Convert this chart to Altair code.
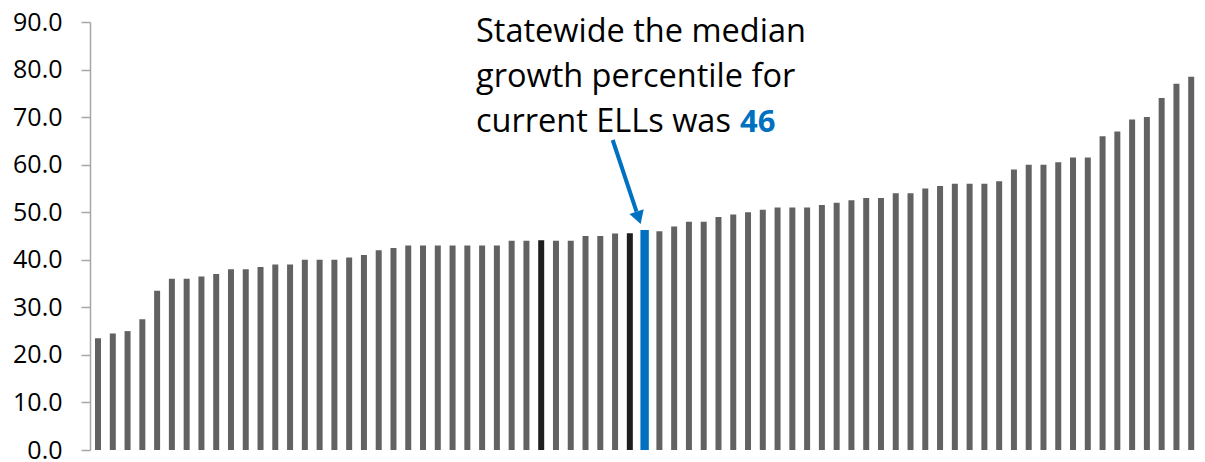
import altair as alt
import pandas as pd

# Median growth percentile of current ELLs, one bar per district (sorted)
values = [
    23.5, 24.5, 25.0, 27.5, 33.5, 36.0, 36.0, 36.5, 37.0, 38.0,
    38.0, 38.5, 39.0, 39.0, 40.0, 40.0, 40.0, 40.5, 41.0, 42.0,
    42.5, 43.0, 43.0, 43.0, 43.0, 43.0, 43.0, 43.0, 44.0, 44.0,
    44.1, 44.0, 44.0, 45.0, 45.0, 45.5, 45.6, 46.0, 46.0, 47.0,
    48.0, 48.0, 49.0, 49.5, 50.0, 50.5, 51.0, 51.0, 51.0, 51.5,
    52.0, 52.5, 53.0, 53.0, 54.0, 54.0, 55.0, 55.5, 56.0, 56.0,
    56.0, 56.5, 59.0, 60.0, 60.0, 60.5, 61.5, 61.5, 66.0, 67.0,
    69.5, 70.0, 74.0, 77.0, 78.5, 83.0,
]
highlight_idx = [30, 36]   # black bars
median_idx = 37            # statewide median (blue)
groups = ["District", "Highlighted", "Statewide"]
group_colors = ["#626262", "#1e1e1e", "#0070C0"]
y_ticks = [0, 10, 20, 30, 40, 50, 60, 70, 80, 90]

annot_lines = ["Statewide the median", "growth percentile for", "current ELLs was"]
annot_value = "46"

group = []
for i in range(len(values)):
    if i == median_idx:
        group.append(groups[2])
    elif i in highlight_idx:
        group.append(groups[1])
    else:
        group.append(groups[0])

df = pd.DataFrame({"idx": list(range(len(values))), "value": values, "group": group})

bars = alt.Chart(df).mark_bar(clip=True).encode(
    x=alt.X("idx:O", axis=None,
            scale=alt.Scale(range=[0, 1124], paddingInner=0.594, paddingOuter=0.34)),
    y=alt.Y("value:Q",
            scale=alt.Scale(domain=[0, 90], nice=False),
            axis=alt.Axis(values=y_ticks, format=".1f", title=None, grid=False,
                          domainColor="#a6a6a6", domainWidth=1.5,
                          tickColor="#a6a6a6", tickSize=9, tickWidth=1.5,
                          labelFont="Open Sans", labelFontSize=25, labelColor="#000000",
                          labelPadding=19)),
    color=alt.Color("group:N", scale=alt.Scale(domain=groups, range=group_colors), legend=None),
    stroke=alt.Color("group:N", scale=alt.Scale(domain=groups, range=group_colors), legend=None),
    strokeWidth=alt.condition(alt.datum.group == "Statewide", alt.value(2.4), alt.value(0)),
)

line_charts = []
for line, yb in zip(annot_lines, [20, 65, 110]):
    line_charts.append(
        alt.Chart(pd.DataFrame({"t": [line]})).mark_text(
            align="left", baseline="alphabetic", font="Open Sans", fontSize=32.5, color="#000000"
        ).encode(x=alt.value(386), y=alt.value(yb), text="t:N")
    )

value_text = alt.Chart(pd.DataFrame({"t": [annot_value]})).mark_text(
    align="left", baseline="alphabetic", font="Open Sans", fontSize=31,
    fontWeight="bold", color="#0070C0"
).encode(x=alt.value(650), y=alt.value(110), text="t:N")

arrow_line = alt.Chart(pd.DataFrame({"a": [0]})).mark_rule(
    color="#0070C0", strokeWidth=4
).encode(x=alt.value(522.7), y=alt.value(118), x2=alt.value(546.5), y2=alt.value(189.6))

arrow_head = alt.Chart(pd.DataFrame({"a": [0]})).mark_point(
    shape="triangle-up", filled=True, color="#0070C0", opacity=1, size=225, angle=161.6
).encode(x=alt.value(548.6), y=alt.value(195.8))

chart = alt.layer(bars, *line_charts, value_text, arrow_line, arrow_head).properties(
    width=1107, height=428,
    autosize=alt.AutoSizeParams(type="none"),
    padding={"left": 82, "top": 14, "right": 0, "bottom": 12},
).configure_view(stroke=None)

chart.save("out.html", embed_options={"renderer": "svg", "actions": False})
